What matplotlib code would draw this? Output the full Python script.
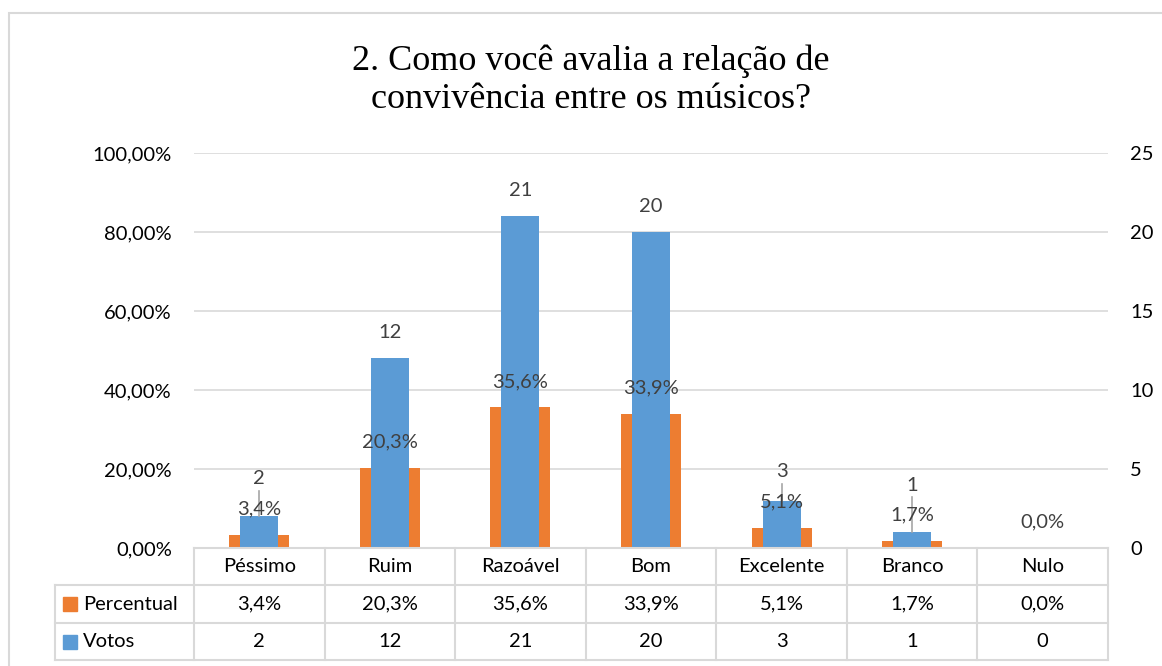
import matplotlib.pyplot as plt
from matplotlib.patches import Rectangle
from matplotlib.lines import Line2D

# data
categorias = ["Péssimo", "Ruim", "Razoável", "Bom", "Excelente", "Branco", "Nulo"]
percentual = [3.4, 20.3, 35.6, 33.9, 5.1, 1.7, 0.0]
votos = [2, 12, 21, 20, 3, 1, 0]
ticks_pct = [0, 20, 40, 60, 80, 100]
ticks_votos = [0, 5, 10, 15, 20, 25]

laranja = "#ED7D31"
azul = "#5B9BD5"
grade = "#D9D9D9"
cinza = "#404040"
fs = 14.5

W, H = 1162, 666
fig = plt.figure(figsize=(W / 100, H / 100), dpi=100)

# pixel helpers (x from left, y from top)
def fx(x):
    return x / W

def fy(y):
    return 1 - y / H

def pct(v):
    return ("%.1f" % v).replace(".", ",") + "%"

left, right, top, bottom = 194, 1108, 153, 548
ax = fig.add_axes([fx(left), fy(bottom), fx(right - left), (bottom - top) / H])
ax2 = ax.twinx()

n = len(categorias)
x = list(range(n))
ax.bar(x, percentual, width=0.46, color=laranja, zorder=2)
ax2.bar(x, votos, width=0.29, color=azul, zorder=2)

ax.set_xlim(-0.5, n - 0.5)
ax.set_ylim(0, 100)
ax2.set_ylim(0, 25)
ax.set_yticks(ticks_pct)
ax.set_yticklabels(["%d,00%%" % t for t in ticks_pct])
ax2.set_yticks(ticks_votos)
ax2.set_yticklabels([str(t) for t in ticks_votos])
ax.yaxis.grid(True, color=grade, linewidth=1.2, zorder=0)
ax.set_axisbelow(True)
ax.set_xticks([])
for a in (ax, ax2):
    for s in a.spines.values():
        s.set_visible(False)
    a.tick_params(axis="y", length=0, labelsize=fs, labelcolor="#000000", pad=16)
    for lab in a.get_yticklabels():
        lab.set_family("Lato")

# data labels (votos label pushed up when it would sit on the percent label)
ph = bottom - top
for i in range(n):
    p_px = percentual[i] / 100 * ph
    v_px = votos[i] / 25 * ph
    p_lab = p_px + 26
    ax2.annotate(pct(percentual[i]), xy=(i, percentual[i] / 4), xytext=(0, 26),
                 textcoords="offset pixels", ha="center", va="center",
                 fontsize=fs, family="Lato", color=cinza, zorder=5)
    if votos[i] == 0:
        continue
    dy = 26
    if v_px + dy < p_lab + 30:
        dy = p_lab + 30 - v_px
        ax2.add_line(Line2D([i, i], [votos[i], votos[i] + (dy - 12) / ph * 25],
                            color="#A6A6A6", linewidth=1.2, zorder=4))
    ax2.annotate(str(votos[i]), xy=(i, votos[i]), xytext=(0, dy),
                 textcoords="offset pixels", ha="center", va="center",
                 fontsize=fs, family="Lato", color=cinza, zorder=5)

# data table under the plot
rows = [548, 585, 623, 660]
colw = (right - left) / n
lw = 1.5
for y in rows:
    x0 = left if y == rows[0] else 55
    fig.add_artist(Line2D([fx(x0), fx(right)], [fy(y), fy(y)], color=grade, lw=lw))
for j in range(n + 1):
    xx = left + j * colw
    fig.add_artist(Line2D([fx(xx), fx(xx)], [fy(rows[0]), fy(rows[-1])], color=grade, lw=lw))
fig.add_artist(Line2D([fx(55), fx(55)], [fy(rows[1]), fy(rows[-1])], color=grade, lw=lw))

for j in range(n):
    cx = fx(left + (j + 0.5) * colw)
    vals = [categorias[j], pct(percentual[j]), str(votos[j])]
    for r in range(3):
        cy = fy((rows[r] + rows[r + 1]) / 2)
        fig.text(cx, cy, vals[r], ha="center", va="center", fontsize=fs,
                 family="Lato", color="#000000")

for r, (nome, cor) in enumerate([("Percentual", laranja), ("Votos", azul)]):
    cy = (rows[r + 1] + rows[r + 2]) / 2
    fig.add_artist(Rectangle((fx(63), fy(cy + 7)), 14 / W, 14 / H, color=cor))
    fig.text(fx(83), fy(cy), nome, ha="left", va="center", fontsize=fs,
             family="Lato", color="#000000")

# chart frame
fig.add_artist(Rectangle((fx(9), fy(700)), 1200 / W, 687 / H, fill=False,
                         edgecolor=grade, lw=1.5))

fig.text(fx(591), fy(80), "2. Como você avalia a relação de\nconvivência entre os músicos?",
         ha="center", va="center", fontsize=26, family="Liberation Serif",
         linespacing=1.22, color="#000000")

fig.savefig("out.png", dpi=100)
